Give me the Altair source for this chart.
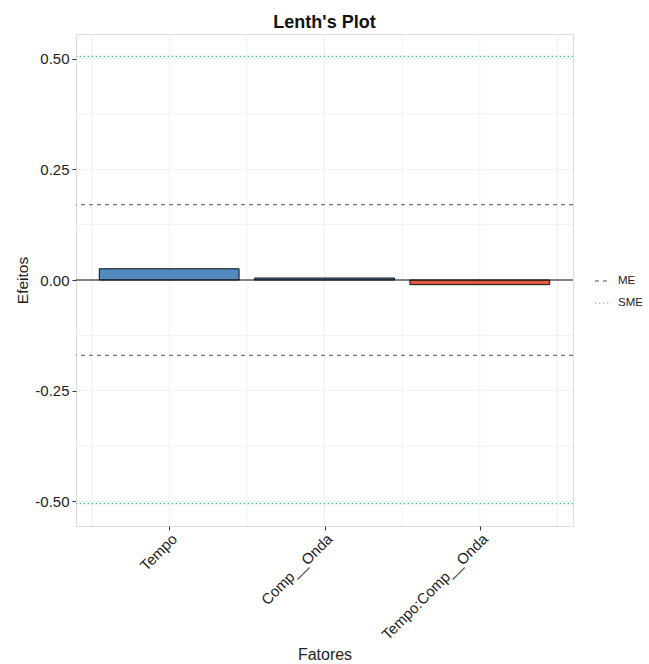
import json

import altair as alt
import pandas as pd

# Lenth's plot of the estimated effects
factors = ["Tempo", "Comp__Onda", "Tempo:Comp__Onda"]
effects = [0.0254, 0.0045, -0.0105]
me = 0.17     # margin of error
sme = 0.505   # simultaneous margin of error

y_ticks = [-0.50, -0.25, 0.00, 0.25, 0.50]
y_minor = [-0.375, -0.125, 0.125, 0.375]
x_minor = [0.5, 1.5, 2.5, 3.5]

FONT = "Liberation Sans"
TEXT = "#222222"
GRID = "#F0F0F0"

bars = pd.DataFrame({
    "factor": factors,
    "pos": list(range(1, len(factors) + 1)),
    "effect": effects,
})
bars["sign"] = ["pos" if v >= 0 else "neg" for v in effects]

limits = pd.DataFrame({
    "type": ["ME", "ME", "SME", "SME"],
    "value": [me, -me, sme, -sme],
})

hgrid_df = pd.DataFrame({"v": y_ticks + y_minor})
vgrid_df = pd.DataFrame({"p": list(bars["pos"]) + x_minor})
zero_df = pd.DataFrame({"v": [0.0]})

# ggplot-style expansion around the data
x_scale = alt.Scale(domain=[0.4, len(factors) + 0.6], nice=False, zero=False)
ylim = sme * 1.1
y_scale = alt.Scale(domain=[-ylim, ylim], nice=False, zero=False)

label_expr = json.dumps(factors) + "[datum.value - 1]"
ax_x = alt.Axis(
    values=list(bars["pos"]), labelExpr=label_expr, title="Fatores",
    labelAngle=-45, labelAlign="right", labelBaseline="top", labelPadding=1,
    labelFontSize=15, labelColor=TEXT, labelFont=FONT,
    tickSize=4, tickColor="#333333", domain=False, grid=False,
    titleFontSize=16, titleFontWeight="normal", titleColor=TEXT,
    titleFont=FONT, titlePadding=4,
)
ax_y = alt.Axis(
    values=y_ticks, labelExpr="replace(format(datum.value, '.2f'), '\u2212', '-')",
    title="Efeitos", labelFontSize=15, labelColor=TEXT, labelFont=FONT,
    labelPadding=3, tickSize=4, tickColor="#333333", domain=False, grid=False,
    titleFontSize=15.5, titleFontWeight="normal", titleColor=TEXT,
    titleFont=FONT, titlePadding=4,
)

hgrid = alt.Chart(hgrid_df).mark_rule(color=GRID, strokeWidth=1).encode(
    y=alt.Y("v:Q", scale=y_scale, axis=ax_y)
)
vgrid = alt.Chart(vgrid_df).mark_rule(color=GRID, strokeWidth=1).encode(
    x=alt.X("p:Q", scale=x_scale, axis=ax_x)
)

# bars run from zero to each effect, 0.9 of a category wide
bar_layer = alt.Chart(bars).transform_calculate(
    lo="datum.pos - 0.45", hi="datum.pos + 0.45", base="0"
).mark_bar(stroke="#111111", strokeWidth=1).encode(
    x=alt.X("lo:Q", scale=x_scale, axis=ax_x),
    x2="hi:Q",
    y=alt.Y("effect:Q", scale=y_scale, axis=ax_y, stack=None),
    y2="base:Q",
    fill=alt.Fill("sign:N", scale=alt.Scale(domain=["pos", "neg"],
                                            range=["#5289BF", "#E15A3D"]),
                  legend=None),
)

zero_line = alt.Chart(zero_df).mark_rule(color="#111111", strokeWidth=1.1).encode(
    y=alt.Y("v:Q", scale=y_scale, axis=ax_y)
)

legend = alt.Legend(
    title=None, symbolType="stroke", symbolSize=260, symbolStrokeWidth=1.1,
    labelFontSize=11.5, labelFont=FONT, labelColor=TEXT, orient="none",
    legendX=518, legendY=238, rowPadding=7, labelOffset=6,
)
limit_lines = alt.Chart(limits).mark_rule(strokeWidth=1.1).encode(
    y=alt.Y("value:Q", scale=y_scale, axis=ax_y),
    color=alt.Color("type:N", scale=alt.Scale(domain=["ME", "SME"],
                                              range=["#555555", "#4DB883"]),
                    legend=legend),
    strokeDash=alt.StrokeDash("type:N",
                              scale=alt.Scale(domain=["ME", "SME"],
                                              range=[[4, 4], [1.4, 2.6]]),
                              legend=legend),
)

chart = alt.layer(vgrid, hgrid, bar_layer, zero_line, limit_lines).properties(
    width=497,
    height=492,
    title=alt.TitleParams("Lenth's Plot", fontSize=18, fontWeight="bold",
                          font=FONT, color="#111111", anchor="middle", offset=2),
    autosize=alt.AutoSizeParams(type="none"),
    padding={"left": 76, "top": 34, "right": 76, "bottom": 138},
).configure_view(
    stroke="#8C8C8C", strokeWidth=1.2
).configure(background="white")

chart.save("out.html", embed_options={"renderer": "svg", "actions": False})
